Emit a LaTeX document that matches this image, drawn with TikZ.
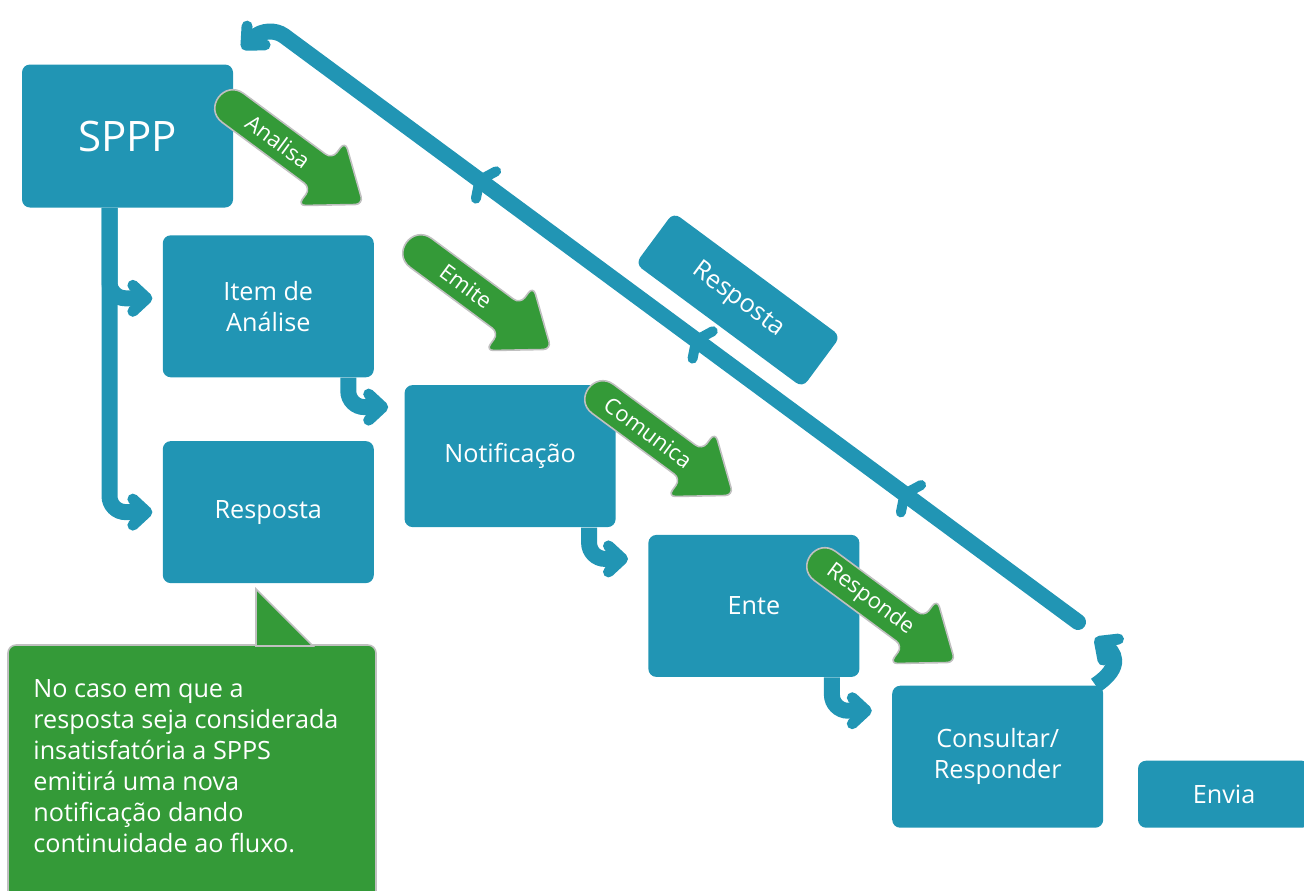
\documentclass[tikz,border=0pt]{standalone}
\usepackage{fontspec}
\setmainfont{Open Sans}
\usetikzlibrary{arrows.meta,positioning,decorations.markings}

\definecolor{boxblue}{RGB}{33,149,180}
\definecolor{boxgreen}{RGB}{52,154,56}
\definecolor{rimgrey}{RGB}{192,192,192}

\begin{document}
\begin{tikzpicture}[
		x=0.5pt, y=-0.5pt,
		node distance=15pt,
		block/.style={fill=boxblue, text=white, rounded corners=4pt, minimum width=105.5pt, minimum height=71pt, align=center, inner sep=0pt, font=\fontsize{12.6}{15.5}\selectfont},
		chevron/.style={-{Straight Barb[length=7pt, width=13pt, line width'=5.5pt, round]}},
		link/.style={chevron, draw=boxblue, line width=8pt, rounded corners=8pt},
		backline/.style={link, line cap=round, rounded corners=10pt, postaction={decorate},
			decoration={markings,
				mark=at position 0.213 with {\arrow{Straight Barb[length=4pt, width=17pt, line width'=5pt, round]}},
				mark=at position 0.463 with {\arrow{Straight Barb[length=4pt, width=17pt, line width'=5pt, round]}},
				mark=at position 0.723 with {\arrow{Straight Barb[length=4pt, width=17pt, line width'=5pt, round]}}}},
		flowarrow/.style={fill=boxgreen, draw=rimgrey, line width=0.8pt},
		flowtext/.style={text=white, rotate=-36.5, inner sep=0pt, font=\fontsize{11}{13}\selectfont},
		bubble/.style={fill=boxgreen, draw=rimgrey, line width=0.8pt},
	]
		\useasboundingbox (0,0) rectangle (1304,890);

		% process boxes
		\node (sppp) [block, font=\fontsize{21}{25}\selectfont, minimum height=71.5pt] at (127.5,136) {SPPP};
		\node (item) [block, below right=13.5pt and -35.5pt of sppp] {Item de\\Análise};
		\node (resp) [block, below=31.5pt of item] {Resposta};
		\node (notif) [block, below right=3.5pt and 15pt of item] {Notificação};
		\node (ente) [block, below right=3.5pt and 16pt of notif] {Ente};
		\node (cons) [block, below right=4pt and 16pt of ente] {Consultar/\\Responder};
		\node (envia) [block, minimum width=86pt, minimum height=33.5pt, right=17pt of cons.south east, anchor=south west] {Envia};
		\node (reply) [block, minimum width=104pt, minimum height=32pt, rotate=-36.5] at (738,300) {Resposta};

		% note
		\draw[bubble, rounded corners=4pt] (8,900) -- (8,645) -- (376,645) -- (376,900) -- cycle;
		\filldraw[bubble] (256,589) -- (313,646) -- (256,646) -- cycle;
		\node (note) [anchor=north west, align=left, text=white, inner sep=0pt, font=\fontsize{12.6}{15.5}\selectfont] at (33,679)
			{No caso em que a\\resposta seja considerada\\insatisfatória a SPPS\\emitirá uma nova\\notificação dando\\continuidade ao fluxo.};

		% connectors
		\draw[link, shorten >=5pt] ([xshift=-9pt]sppp.south) |- ([yshift=4pt]item.west);
		\draw[link, shorten >=5pt] ([xshift=-9pt]sppp.south) |- (resp.west);
		\draw[link, shorten >=8pt] ([xshift=40pt]item.south) |- ([yshift=24.5pt]notif.west);
		\draw[link, shorten >=10pt] ([xshift=39.5pt]notif.south) |- ([yshift=23.5pt]ente.west);
		\draw[link, shorten >=10pt] ([xshift=39pt]ente.south) |- ([yshift=23pt]cons.west);

		% way back
		\coordinate (loop-in) at (1095,638);
		\draw[link] ([xshift=-4pt]cons.north east) .. controls (1124,666) and (1114,652) .. (loop-in);
		\coordinate (loop-start) at (1078,622);
		\coordinate (loop-bend) at (268,24);
		\coordinate (loop-end) at (242,49);
		\draw[backline] (loop-start) -- (loop-bend) -- (loop-end);

		% green arrows
		\foreach \tx/\ty/\word in {233/108/Analisa, 421/253/Emite, 603/399/Comunica, 825/566/Responde}{
			\begin{scope}[shift={(\tx,\ty)}, rotate=-36.5]
				\filldraw[flowarrow] (0,18) [rounded corners=4pt] -- (110,18) -- (110,40) -- (162,0) -- (110,-40) -- (110,-18) [sharp corners] -- (0,-18) .. controls (-24,-18) and (-24,18) .. cycle;
				\node (\word) [flowtext] at (56,0) {\word};
			\end{scope}
		}
	\end{tikzpicture}
\end{document}
